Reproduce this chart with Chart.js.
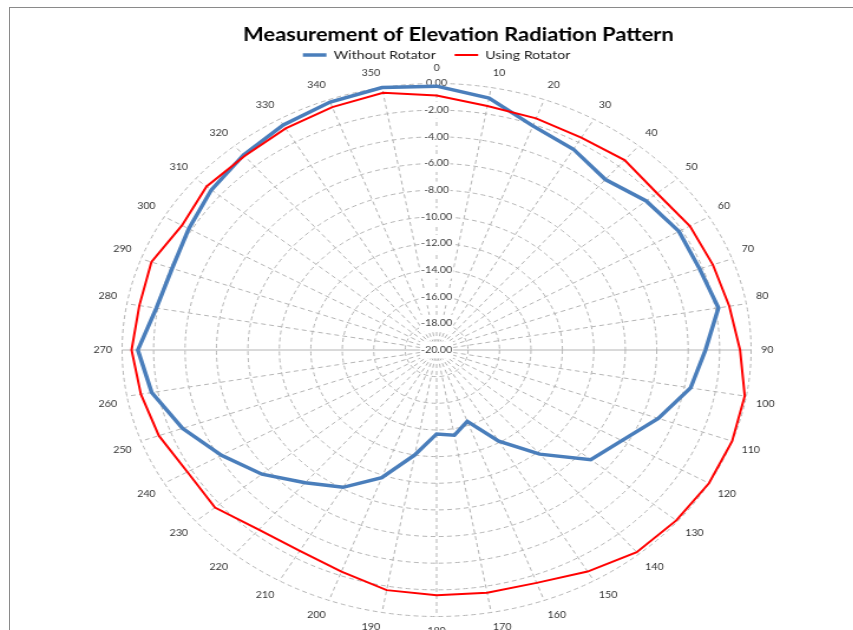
<!DOCTYPE html>
<html>
<head>
<meta charset="utf-8">
<title>Measurement of Elevation Radiation Pattern</title>
<script src="https://cdn.jsdelivr.net/npm/chart.js@4.4.1/dist/chart.umd.min.js"></script>
<style>
  html, body { margin: 0; padding: 0; background: #fff; overflow: hidden; }
  body { width: 853px; height: 630px; position: relative; }
  /* chart frame, only the left and top edges fall inside the picture */
  .frame {
    position: absolute; left: 9px; top: 7px; width: 900px; height: 700px;
    border-left: 1px solid #8a8a8a; border-top: 1px solid #8a8a8a;
  }
  /* the source picture is stretched sideways, so the circular radar becomes an ellipse */
  .stretch {
    position: absolute; left: 0; top: 0; width: 723px; height: 640px;
    transform: scaleX(1.18); transform-origin: 0 0;
  }
</style>
</head>
<body>
<div class="frame"></div>
<div class="stretch"><canvas id="radarChart"></canvas></div>
<script>
// angle in degrees
const angles = ['0', '10', '20', '30', '40', '50', '60', '70', '80', '90', '100', '110',
  '120', '130', '140', '150', '160', '170', '180', '190', '200', '210', '220', '230',
  '240', '250', '260', '270', '280', '290', '300', '310', '320', '330', '340', '350'];

// normalised level (dB)
const withoutRotator = [-0.2, -0.8, -2.1, -2.6, -3.3, -2.6, -2.2, -2.2, -1.8, -2.9, -3.6, -5.0,
  -6.4, -7.2, -9.8, -12.1, -14.3, -13.5, -13.7, -12.0, -9.8, -8.1, -7.0, -5.5,
  -4.2, -2.8, -1.6, -1.0, -1.9, -2.1, -1.8, -1.3, -0.9, -0.5, -0.2, 0.0];

const usingRotator = [-0.9, -1.4, -1.5, -1.6, -1.4, -1.7, -1.4, -1.3, -1.1, -0.7, -0.1, 0.0,
  0.0, -0.1, -0.2, -0.8, -1.4, -1.5, -1.6, -1.7, -2.3, -2.6, -2.4, -1.6,
  -1.7, -1.2, -0.9, -0.6, -0.8, -0.7, -1.3, -0.9, -1.0, -0.8, -0.6, -0.4];

// radial axis
const levelMin = -20;
const levelMax = 0;
const levelStep = 2;

const FONT = 'Lato, "Open Sans", sans-serif';

new Chart(document.getElementById('radarChart'), {
  type: 'radar',
  data: {
    labels: angles,
    datasets: [
      {
        label: 'Without Rotator',
        data: withoutRotator,
        borderColor: '#4a7ebb',
        backgroundColor: '#4a7ebb',
        borderWidth: 3.5,
        pointRadius: 0,
        fill: false,
        order: 1
      },
      {
        label: 'Using Rotator',
        data: usingRotator,
        borderColor: '#ff0000',
        backgroundColor: '#ff0000',
        borderWidth: 2,
        pointRadius: 0,
        fill: false,
        order: 0 // red is drawn over the blue line
      }
    ]
  },
  options: {
    responsive: true,
    maintainAspectRatio: false,
    animation: false,
    layout: { padding: { left: 17, bottom: 2 } },
    elements: { line: { tension: 0 } },
    plugins: {
      title: {
        display: true,
        text: '\u2003\u2003\u2002Measurement of Elevation Radiation Pattern',
        color: '#000',
        font: { family: FONT, size: 18.5, weight: 'bold', lineHeight: 1 },
        padding: { top: 26.25, bottom: -11.75 }
      },
      legend: {
        position: 'top',
        maxHeight: 29,
        labels: {
          usePointStyle: true,
          pointStyle: 'line',
          pointStyleWidth: 20,
          padding: 16,
          color: '#222',
          font: { family: FONT, size: 12 },
          sort: (a, b) => a.datasetIndex - b.datasetIndex
        }
      },
      tooltip: { enabled: false }
    },
    scales: {
      r: {
        min: levelMin,
        max: levelMax,
        ticks: {
          stepSize: levelStep,
          callback: (v) => v.toFixed(2),
          color: '#404040',
          font: { family: FONT, size: 9 },
          backdropColor: '#fff',
          backdropPadding: { x: 1, y: 4 }
        },
        grid: { circular: true, color: '#b4b4b4', lineWidth: 1 },
        border: { dash: [4, 3] },
        angleLines: {
          color: '#b4b4b4',
          lineWidth: 1,
          // the 90-270 line is solid in the source
          borderDash: (ctx) => (ctx.index === 9 || ctx.index === 27) ? [] : [4, 3]
        },
        pointLabels: {
          color: '#333',
          padding: 0,
          font: { family: FONT, size: 9, lineHeight: '13px' }
        }
      }
    }
  }
});
</script>
</body>
</html>
